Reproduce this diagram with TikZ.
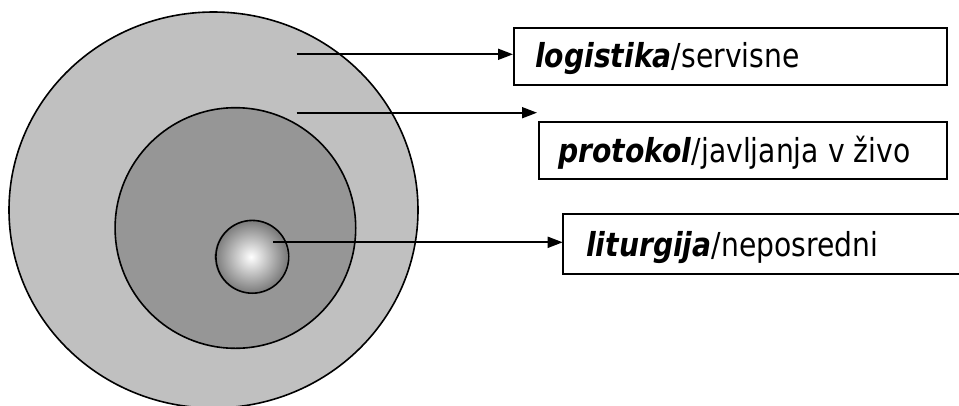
\documentclass[tikz,border=0pt]{standalone}
\usepackage{fontspec}
\setmainfont{DejaVu Sans}
\usetikzlibrary{arrows.meta,shapes.geometric}
\definecolor{ringouter}{HTML}{C0C0C0}
\definecolor{ringmid}{HTML}{969696}
\definecolor{coreedge}{HTML}{7A7A7A}
\newcommand{\capt}[2]{\scalebox{0.855}[1]{\textbf{\textit{#1}}/#2}}
\tikzset{
  ring/.style={draw=black, line width=1.6pt},
  labelbox/.style={draw=black, line width=1.8pt},
  pointer/.style={draw=black, line width=1.8pt, -{Triangle[length=15pt,width=11pt]}},
  caption/.style={anchor=base west, inner sep=0pt, font=\fontsize{33}{40}\selectfont},
}
\begin{document}
\begin{tikzpicture}[x=1pt,y=-1pt]
\useasboundingbox (0,0) rectangle (959,405);
\clip (0,0) rectangle (959,405);
\fill[white] (0,0) rectangle (959,405);

% concentric layers
\node[ring, fill=ringouter, ellipse, minimum width=409pt, minimum height=396pt, inner sep=0pt] (outer) at (213.5,210) {};
\node[ring, fill=ringmid, circle, minimum size=240.6pt, inner sep=0pt] (middle) at (235.4,228) {};
\shade[inner color=white, outer color=coreedge] (251,256.8) circle[radius=36.4pt];
\node[ring, circle, minimum size=72.8pt, inner sep=0pt] (core) at (252.3,256.8) {};

% label boxes
\node[labelbox, anchor=north west, minimum width=433pt, minimum height=57pt, inner sep=0pt] (boxA) at (513,27.3) {};
\node[labelbox, anchor=north west, minimum width=407.7pt, minimum height=57.6pt, inner sep=0pt] (boxB) at (538.3,120.7) {};
\draw[labelbox] (975,214.3) -| (562.7,274) -- (975,274);
\coordinate (boxC) at (562.7,242.3);

\node[caption] (txtA) at (535,67.3) {\capt{logistika}{servisne}};
\node[caption] (txtB) at (558,162.3) {\capt{protokol}{javljanja v živo}};
\node[caption] (txtC) at (586,256.7) {\capt{liturgija}{neposredni}};

% pointers
\coordinate (fromA) at (296.7,54.3);
\coordinate (fromB) at (296.7,112.7);
\coordinate (fromC) at (273.3,242.3);
\coordinate (toB) at (537,112.7);
\draw[pointer] (fromA) -- (fromA -| boxA.west);
\draw[pointer] (fromB) -- (toB);
\draw[pointer] (fromC) -- (boxC);
\end{tikzpicture}
\end{document}
